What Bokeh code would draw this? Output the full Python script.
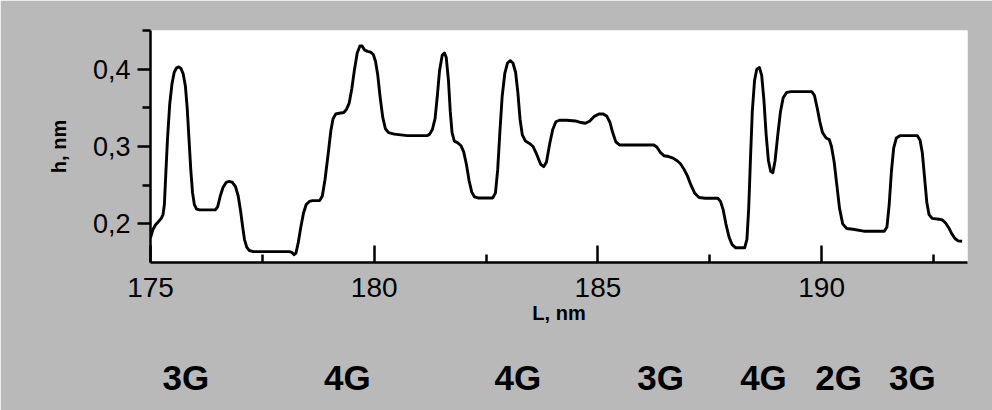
from bokeh.plotting import figure
from bokeh.models import FixedTicker, Range1d, LinearAxis, CustomJSTickFormatter
from bokeh.embed import file_html
from bokeh.resources import INLINE

# ---- data ----
L_nm = [175.00, 175.05, 175.11, 175.18, 175.24, 175.28, 175.31, 175.34, 175.38, 175.43,
        175.48, 175.53, 175.58, 175.63, 175.68, 175.73, 175.78, 175.82, 175.86, 175.90,
        175.94, 175.98, 176.03, 176.10, 176.45, 176.50, 176.56, 176.62, 176.69, 176.76,
        176.83, 176.90, 176.96, 177.01, 177.06, 177.10, 177.15, 177.21, 177.30, 178.10,
        178.16, 178.21, 178.25, 178.30, 178.36, 178.42, 178.48, 178.55, 178.62, 178.78,
        178.84, 178.90, 178.97, 179.03, 179.08, 179.14, 179.22, 179.32, 179.38, 179.44,
        179.50, 179.56, 179.62, 179.68, 179.73, 179.78, 179.85, 179.92, 179.98, 180.03,
        180.08, 180.13, 180.19, 180.25, 180.32, 180.45, 180.74, 181.18, 181.24, 181.30,
        181.36, 181.41, 181.46, 181.52, 181.57, 181.61, 181.66, 181.70, 181.74, 181.79,
        181.86, 181.94, 182.00, 182.06, 182.12, 182.18, 182.24, 182.32, 182.65, 182.71,
        182.76, 182.81, 182.86, 182.92, 182.98, 183.04, 183.10, 183.16, 183.21, 183.26,
        183.31, 183.38, 183.47, 183.55, 183.63, 183.72, 183.79, 183.85, 183.92, 183.99,
        184.06, 184.14, 184.30, 184.50, 184.62, 184.72, 184.82, 184.92, 185.02, 185.12,
        185.20, 185.27, 185.33, 185.40, 185.48, 185.60, 186.25, 186.32, 186.40, 186.48,
        186.58, 186.68, 186.76, 186.84, 186.92, 187.00, 187.08, 187.16, 187.26, 187.40,
        187.68, 187.74, 187.80, 187.86, 187.93, 188.00, 188.08, 188.28, 188.33, 188.37,
        188.41, 188.45, 188.50, 188.55, 188.61, 188.66, 188.71, 188.76, 188.81, 188.86,
        188.91, 188.96, 189.02, 189.08, 189.14, 189.22, 189.32, 189.78, 189.84, 189.90,
        189.96, 190.02, 190.10, 190.17, 190.22, 190.28, 190.34, 190.40, 190.47, 190.56,
        190.70, 190.94, 191.40, 191.46, 191.51, 191.56, 191.61, 191.67, 191.75, 192.14,
        192.20, 192.25, 192.30, 192.35, 192.40, 192.47, 192.62, 192.70, 192.77, 192.84,
        192.91, 192.98, 193.05, 193.14]
h_nm = [0.182, 0.192, 0.1985, 0.203, 0.207, 0.212, 0.225, 0.262, 0.310, 0.355,
        0.381, 0.396, 0.4015, 0.403, 0.401, 0.394, 0.378, 0.350, 0.310, 0.270,
        0.240, 0.225, 0.219, 0.218, 0.218, 0.222, 0.236, 0.247, 0.2535, 0.2548,
        0.2535, 0.248, 0.236, 0.218, 0.196, 0.180, 0.170, 0.1655, 0.164, 0.164,
        0.163, 0.160, 0.162, 0.175, 0.196, 0.214, 0.225, 0.229, 0.230, 0.230,
        0.236, 0.257, 0.290, 0.320, 0.336, 0.342, 0.343, 0.344, 0.348, 0.356,
        0.375, 0.400, 0.421, 0.430, 0.430, 0.425, 0.423, 0.422, 0.419, 0.410,
        0.392, 0.365, 0.338, 0.323, 0.318, 0.316, 0.314, 0.314, 0.316, 0.322,
        0.336, 0.365, 0.398, 0.418, 0.421, 0.415, 0.385, 0.345, 0.318, 0.307,
        0.305, 0.301, 0.293, 0.277, 0.256, 0.241, 0.235, 0.2335, 0.2335, 0.240,
        0.270, 0.320, 0.365, 0.395, 0.408, 0.411, 0.408, 0.396, 0.370, 0.335,
        0.315, 0.307, 0.304, 0.300, 0.290, 0.277, 0.274, 0.280, 0.303, 0.322,
        0.332, 0.334, 0.334, 0.333, 0.331, 0.330, 0.333, 0.339, 0.342, 0.342,
        0.339, 0.331, 0.318, 0.306, 0.302, 0.302, 0.302, 0.299, 0.292, 0.288,
        0.287, 0.285, 0.282, 0.278, 0.271, 0.262, 0.250, 0.240, 0.234, 0.233,
        0.233, 0.229, 0.218, 0.200, 0.183, 0.173, 0.169, 0.169, 0.180, 0.220,
        0.285, 0.345, 0.385, 0.400, 0.402, 0.392, 0.360, 0.315, 0.282, 0.268,
        0.266, 0.282, 0.315, 0.345, 0.363, 0.370, 0.371, 0.371, 0.366, 0.350,
        0.332, 0.318, 0.311, 0.309, 0.300, 0.280, 0.250, 0.220, 0.200, 0.194,
        0.193, 0.1905, 0.1905, 0.196, 0.225, 0.268, 0.298, 0.311, 0.314, 0.314,
        0.308, 0.292, 0.260, 0.228, 0.212, 0.207, 0.206, 0.205, 0.201, 0.195,
        0.187, 0.181, 0.178, 0.1775]

x_ticks = [175, 180, 185, 190]
x_minor = [177.5, 182.5, 187.5, 192.5]
y_ticks = [0.2, 0.3, 0.4]
y_minor = [0.25, 0.35, 0.45]

group_names = ["3G", "4G", "4G", "3G", "4G", "2G", "3G"]
group_L = [175.79, 179.40, 183.21, 186.40, 188.70, 190.38, 192.03]

GRAY = "#b9b9b9"
FONT = "Liberation Sans"

p = figure(width=992, height=410, output_backend="svg", toolbar_location=None,
           x_range=Range1d(175, 193.26), y_range=Range1d(0.15, 0.45),
           min_border_left=150, min_border_right=25, min_border_top=30,
           min_border_bottom=148)
p.border_fill_color = GRAY
p.background_fill_color = "white"
p.outline_line_color = None
p.grid.visible = False

p.line(L_nm, h_nm, line_width=2.9, color="black", line_join="round")

xa = p.xaxis[0]
xa.ticker = FixedTicker(ticks=x_ticks, minor_ticks=x_minor)
xa.major_tick_in = 17
xa.major_tick_out = 0
xa.minor_tick_in = 8
xa.minor_tick_out = 0
xa.axis_line_width = 2.5
xa.major_tick_line_width = 2.5
xa.minor_tick_line_width = 2.5
xa.major_label_text_font = FONT
xa.major_label_text_font_size = "28px"
xa.major_label_text_color = "black"
xa.major_label_standoff = 15
xa.axis_label = "L, nm"
xa.axis_label_text_font = FONT
xa.axis_label_text_font_style = "bold"
xa.axis_label_text_font_size = "20px"
xa.axis_label_text_color = "black"
xa.axis_label_standoff = 2

ya = p.yaxis[0]
ya.ticker = FixedTicker(ticks=y_ticks, minor_ticks=y_minor)
ya.formatter = CustomJSTickFormatter(code="return tick.toFixed(1).replace('.', ',');")
ya.major_tick_in = 0
ya.major_tick_out = 13
ya.minor_tick_in = 0
ya.minor_tick_out = 8
ya.axis_line_width = 2.5
ya.major_tick_line_width = 2.5
ya.minor_tick_line_width = 2.5
ya.major_label_text_font = FONT
ya.major_label_text_font_size = "27px"
ya.major_label_text_color = "black"
ya.major_label_standoff = 7
ya.axis_label = "h, nm"
ya.axis_label_text_font = FONT
ya.axis_label_text_font_style = "bold"
ya.axis_label_text_font_size = "20px"
ya.axis_label_text_color = "black"
ya.axis_label_standoff = 20

# group labels as a second axis below
ga = LinearAxis(ticker=FixedTicker(ticks=group_L, minor_ticks=[]),
                formatter=CustomJSTickFormatter(args=dict(names=group_names),
                                                code="return names[index];"))
ga.axis_line_color = None
ga.major_tick_line_color = None
ga.minor_tick_line_color = None
ga.major_tick_in = 0
ga.major_tick_out = 0
ga.minor_tick_in = 0
ga.minor_tick_out = 0
ga.major_label_text_font = FONT
ga.major_label_text_font_style = "bold"
ga.major_label_text_font_size = "35px"
ga.major_label_text_color = "black"
ga.major_label_standoff = 31
p.add_layout(ga, "below")

open("out.html", "w").write(file_html(p, INLINE))
